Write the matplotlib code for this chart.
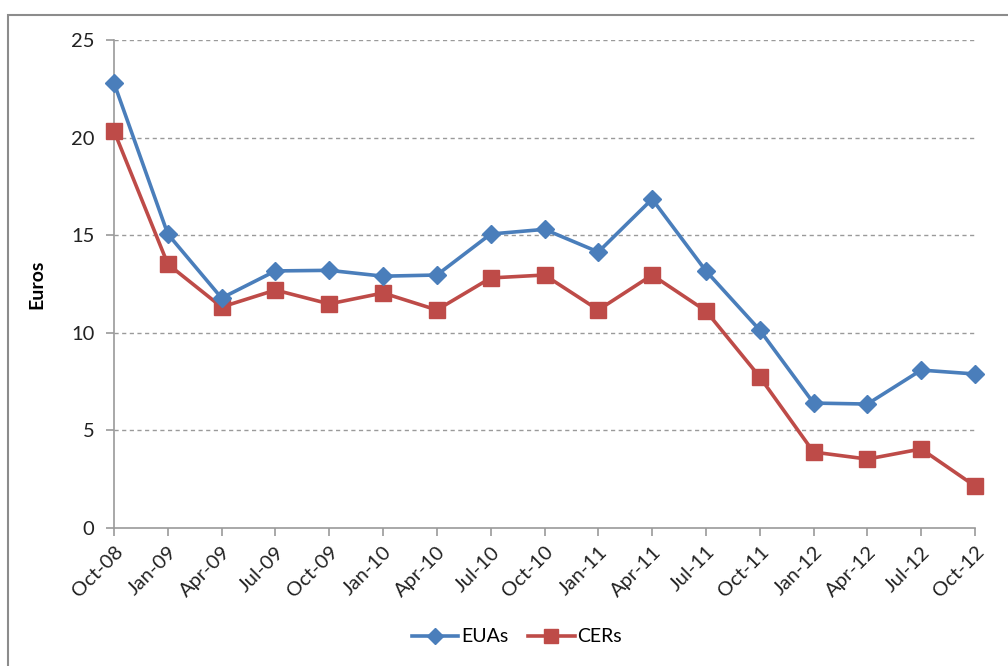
import matplotlib
matplotlib.use("Agg")
import matplotlib.pyplot as plt
from matplotlib.patches import Rectangle

# Quarterly carbon prices
quarters = ["Oct-08", "Jan-09", "Apr-09", "Jul-09", "Oct-09", "Jan-10", "Apr-10",
            "Jul-10", "Oct-10", "Jan-11", "Apr-11", "Jul-11", "Oct-11", "Jan-12",
            "Apr-12", "Jul-12", "Oct-12"]
euas = [22.8, 15.06, 11.78, 13.17, 13.2, 12.9, 12.96, 15.06, 15.3, 14.14, 16.85,
        13.17, 10.14, 6.4, 6.35, 8.09, 7.89]
cers = [20.34, 13.52, 11.32, 12.19, 11.48, 12.04, 11.17, 12.81, 12.96, 11.17, 12.96,
        11.12, 7.74, 3.89, 3.53, 4.05, 2.15]
y_ticks = [0, 5, 10, 15, 20, 25]

plt.rcParams['font.family'] = ['Lato', 'DejaVu Sans']

W, H = 1008, 666
fig = plt.figure(figsize=(W / 100, H / 100), dpi=100)
fig.patch.set_facecolor("white")

# outer chart frame
fig.patches.append(Rectangle((8 / W, -0.01), 1.02, 1 - 15 / H + 0.01,
                             transform=fig.transFigure, fill=False,
                             edgecolor="#8c8c8c", linewidth=1.5))

ax = fig.add_axes([114 / W, 138 / H, (975 - 114) / W, (528 - 40) / H])
x = list(range(len(quarters)))

blue = "#4A7EBB"
red = "#BE4B48"
ax.plot(x, euas, color=blue, lw=2.6, marker="D", markersize=9.5,
        markeredgecolor=blue, markerfacecolor=blue, label="EUAs", zorder=4,
        clip_on=False)
ax.plot(x, cers, color=red, lw=2.6, marker="s", markersize=11,
        markeredgecolor=red, markerfacecolor=red, label="CERs", zorder=3,
        clip_on=False)

ax.set_xlim(0, len(quarters) - 1)
ax.set_ylim(0, 25)
ax.set_yticks(y_ticks)
ax.set_yticklabels([str(v) for v in y_ticks], fontsize=14.5, color="#222222")
ax.set_xticks(x)
ax.set_xticklabels(quarters, rotation=45, ha="right", va="top",
                   rotation_mode="anchor", fontsize=14.5, color="#222222")

for v in y_ticks[1:]:
    ax.axhline(v, color="#9a9a9a", lw=1, ls=(0, (3, 2.5)), zorder=1)

for side in ["top", "right"]:
    ax.spines[side].set_visible(False)
for side in ["left", "bottom"]:
    ax.spines[side].set_color("#9a9a9a")
    ax.spines[side].set_linewidth(1.2)
ax.tick_params(axis="both", color="#9a9a9a", length=6, width=1.2)
ax.tick_params(axis="x", pad=5)
ax.tick_params(axis="y", pad=8)

ax.set_ylabel("Euros", fontsize=14, fontweight="bold")
ax.yaxis.set_label_coords((45 - 114) / (975 - 114), 0.5)

leg = fig.legend(loc="center", bbox_to_anchor=(517 / W, 1 - 637 / H), ncol=2,
                 frameon=False, fontsize=14, handlelength=2.4, columnspacing=1.0,
                 handletextpad=0.15, markerscale=0.9)

fig.savefig("out.png", dpi=100, facecolor="white")
